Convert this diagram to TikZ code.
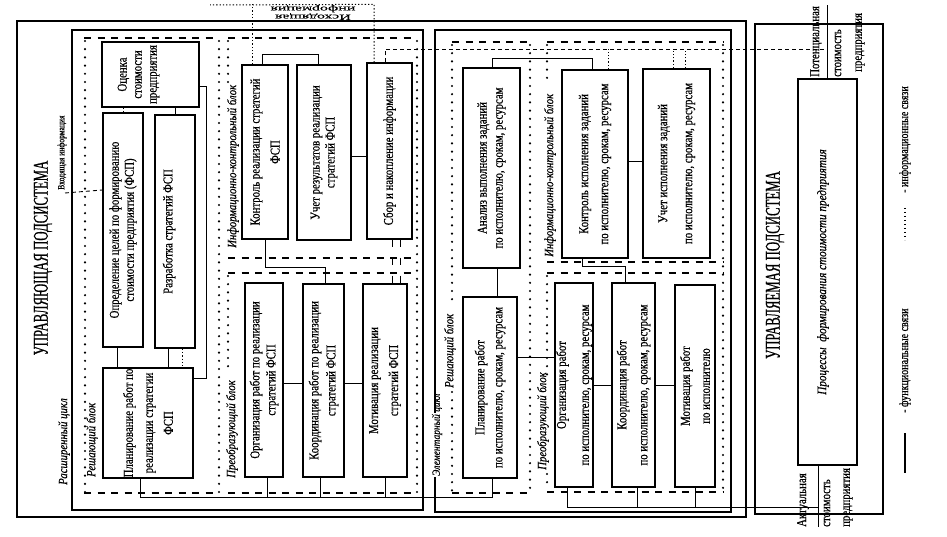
\documentclass[tikz,border=0pt]{standalone}
\usepackage{fontspec}
\setmainfont{Liberation Serif}
\newfontfamily\bxf{Liberation Serif}[FakeStretch=0.8,FakeBold=0.6]
\newfontfamily\lblf{Liberation Serif}[FakeStretch=0.86,FakeBold=0.5]
\newfontfamily\ttlf{Liberation Serif}[FakeStretch=0.61,FakeBold=0.6]
\newfontfamily\widef{Liberation Serif}[FakeStretch=2,FakeBold=0.4]
\begin{document}
\begin{tikzpicture}[x=1pt,y=-1pt,
  frm/.style={line width=1.8pt},
  bx/.style={draw, line width=1.3pt, rotate=90, align=center, inner sep=0pt, font=\bxf\fontsize{13.5}{15}\selectfont},
  lead/.style={font=\bxf\fontsize{13.5}{#1}\selectfont},
  bt/.style={rotate=90, align=center, inner sep=0pt, font=\bxf\fontsize{13.5}{15}\selectfont},
  fl/.style={line width=1pt},
  dsh/.style={line width=1.5pt, dash pattern=on 7pt off 6.5pt},
  dts/.style={line width=2.4pt, line cap=round, dash pattern=on 0pt off 8.2pt},
  il/.style={line width=1pt, dash pattern=on 1.3pt off 2pt},
  ild/.style={line width=0.9pt, dash pattern=on 4pt off 3pt},
  lbl/.style={rotate=90, anchor=west, inner sep=0pt, font=\lblf\itshape\fontsize{12.5}{12.5}\selectfont},
  txt/.style={rotate=90, anchor=west, inner sep=0pt, font=\bxf\fontsize{13.5}{13.5}\selectfont},
  ttl/.style={rotate=90, inner sep=0pt, font=\ttlf\fontsize{21}{21}\selectfont},
]
\useasboundingbox (0,0) rectangle (947,537);

% ---------- frames ----------
\draw[frm] (17,21) rectangle (746,517);
\draw[frm] (72,30) rectangle (423,510);
\draw[frm] (435,413) -- (435,30) -- (731,30) -- (731,512) -- (435,512) -- (435,477);
\draw[frm] (755,24) rectangle (883,514);

\node[ttl] (t1) at (43,258) {УПРАВЛЯЮЩАЯ ПОДСИСТЕМА};
\node[ttl] (t2) at (775,265) {УПРАВЛЯЕМАЯ ПОДСИСТЕМА};

% ---------- block outlines: extended cycle ----------
\draw[dsh] (84,38) -- (219,38);
\draw[dsh] (84,493) -- (219,493);
\draw[dsh] (228,38) -- (417,38);
\draw[dsh] (228,258) -- (417,258);
\draw[dsh] (228,273) -- (417,273);
\draw[dsh] (228,493) -- (417,493);
\draw[dts] (85,41) -- (85,492);
\draw[dts] (219,41) -- (219,492);
\draw[dts] (228,41) -- (228,84);
\draw[dts] (228,276) -- (228,372);
\draw[dts] (417,41) -- (417,492);

% ---------- block outlines: elementary cycle ----------
\draw[dsh] (452,42) -- (530,42);
\draw[dsh] (452,493) -- (530,493);
\draw[dsh] (547,42) -- (723,42);
\draw[dsh] (547,262) -- (723,262);
\draw[dsh] (547,273) -- (723,273);
\draw[dsh] (547,492) -- (723,492);
\draw[dts] (452,45) -- (452,304);
\draw[dts] (452,392) -- (452,492);
\draw[dts] (530,45) -- (530,492);
\draw[dts] (547,45) -- (547,80);
\draw[dts] (547,276) -- (547,378);
\draw[dts] (547,474) -- (547,490);
\draw[dts] (723,45) -- (723,492);

% ---------- labels ----------
\node[lbl] (l1) at (64,485) {Расширенный цикл};
\node[lbl] (l2) at (92,477) {Решающий блок};
\node[lbl] (l3) at (233,248) {Информационно-контрольный блок};
\node[lbl] (l4) at (232,478) {Преобразующий блок};
\node[lbl, font=\lblf\itshape\fontsize{11}{11}\selectfont] (l5) at (437,476) {Элементарный цикл};
\node[lbl] (l6) at (450,388) {Решающий блок};
\node[lbl] (l7) at (550,257) {Информационно-контрольный блок};
\node[lbl] (l8) at (543,470) {Преобразующий блок};
\node[txt, font=\bxf\fontsize{9.5}{9.5}\selectfont] (vin) at (62,190) {Входящая информация};
\node[rotate=180, align=center, inner sep=0pt, font=\widef\fontsize{8}{8}\selectfont] (vout) at (313,12.5) {Исходящая\\информация};

% ---------- boxes: extended cycle ----------
\node[bx, minimum width=65pt, minimum height=97pt] (ocenka) at (150.5,74.5) {};
\node[bt] (ocenkaT) at ([xshift=-12pt]ocenka.center) {Оценка\\стоимости\\предприятия};
\node[bx, minimum width=234pt, minimum height=40pt] (opred) at (123,230) {Определение целей по формированию\\стоимости предприятия (ФСП)};
\node[bx, minimum width=233pt, minimum height=40pt] (razrab) at (175,231.5) {};
\node[bt] (razrabT) at ([xshift=-6pt]razrab.center) {Разработка стратегий ФСП};
\node[bx, lead=20, minimum width=110pt, minimum height=90pt] (planF) at (148,423) {Планирование работ по\\реализации стратегии\\ФСП};
\node[bx, lead=20, minimum width=174pt, minimum height=46pt] (kontrF) at (265,152) {Контроль реализации стратегий\\ФСП};
\node[bx, lead=15, minimum width=175pt, minimum height=54pt] (uchetF) at (324,152.5) {Учет результатов реализации\\стратегий ФСП};
\node[bx, minimum width=176pt, minimum height=45pt] (sbor) at (389.5,151) {Сбор и накопление информации};
\node[bx, lead=16, minimum width=194pt, minimum height=38pt] (orgF) at (264,380) {Организация работ по реализации\\стратегий ФСП};
\node[bx, lead=17, minimum width=193pt, minimum height=41pt] (koordF) at (323.5,380.5) {Координация работ по реализации\\стратегий ФСП};
\node[bx, lead=20, minimum width=193pt, minimum height=44pt] (motF) at (385,380.5) {Мотивация реализации\\стратегий ФСП};

% ---------- boxes: elementary cycle ----------
\node[bx, lead=16, minimum width=200pt, minimum height=57pt] (analiz) at (491.5,168) {Анализ выполнения заданий\\по исполнителю, срокам, ресурсам};
\node[bx, lead=20, minimum width=188pt, minimum height=66pt] (kontrE) at (595,164) {Контроль исполнения заданий\\по исполнителю, срокам, ресурсам};
\node[bx, lead=25, minimum width=189pt, minimum height=67pt] (uchetE) at (676.5,163.5) {Учет исполнения заданий\\по исполнителю, срокам, ресурсам};
\node[bx, lead=18, minimum width=181pt, minimum height=54pt] (planE) at (490,387.5) {Планирование работ\\по исполнителю, срокам, ресурсам};
\node[bx, lead=23, minimum width=204pt, minimum height=38pt] (orgE) at (574,385) {Организация работ\\по исполнителю, срокам, ресурсам};
\node[bx, lead=21, minimum width=204pt, minimum height=43pt] (koordE) at (633.5,385) {Координация работ\\по исполнителю, срокам, ресурсам};
\node[bx, lead=20, minimum width=202pt, minimum height=40pt] (motE) at (695,386) {Мотивация работ\\по исполнителю};

% ---------- managed subsystem ----------
\node[bx, minimum width=386pt, minimum height=59pt] (proc) at (827.5,272) {};
\node[rotate=90, inner sep=0pt, font=\lblf\itshape\fontsize{13}{13}\selectfont] (procT) at ([xshift=-4.5pt]proc.center) {Процессы~~формирования стоимости предприятия};
\coordinate (potEnd) at (827.5,5);
\coordinate (aktEnd) at (818,527);
\draw[fl] (proc.east) -- (potEnd);
\draw[fl] ([xshift=-9.5pt]proc.west) -- (aktEnd);
\node[txt] (p1) at (816,77) {Потенциальная};
\node[txt] (p2) at (838,77) {стоимость};
\node[txt] (p3) at (860,72) {предприятия};
\node[txt] (a1) at (803,527) {Актуальная};
\node[txt] (a2) at (827,527) {стоимость};
\node[txt] (a3) at (848,527) {предприятия};

% ---------- legend ----------
\coordinate (lg1a) at (905,433); \coordinate (lg1b) at (905,473);
\coordinate (lg2a) at (905,208); \coordinate (lg2b) at (905,240);
\draw[line width=1.3pt] (lg1a) -- (lg1b);
\draw[line width=1.4pt, dash pattern=on 1.2pt off 2.8pt] (lg2a) -- (lg2b);
\node[txt, font=\bxf\fontsize{12.5}{12.5}\selectfont] (lg1) at (905,413) {- функциональные связи};
\node[txt, font=\bxf\fontsize{12.5}{12.5}\selectfont] (lg2) at (905,193) {- информационные связи};

% ---------- connectors: extended cycle ----------
\draw[fl] (ocenka.west -| razrab.east) -- (razrab.east);
\draw[il] (ocenka.west -| opred.east) -- (opred.east);
\draw[fl] ([yshift=-12.5pt]ocenka.south) -| ([xshift=13pt,yshift=45pt]planF.south) -- ([yshift=45pt]planF.south);
\draw[fl] ([xshift=-6pt]opred.west) -- ([xshift=-6pt]opred.west |- planF.east);
\draw[fl] ([xshift=-7pt]razrab.west) -- ([xshift=-7pt]razrab.west |- planF.east);
\draw[il] ([xshift=7pt]razrab.west) -- ([xshift=7pt]razrab.west |- planF.east);
\draw[fl] ([xshift=-8pt]planF.west) -- ++(0,19) -| ([xshift=2pt]planE.west);
\draw[fl] ([xshift=3pt]orgF.west) -- ++(0,20);
\draw[fl] ([xshift=-3.5pt]koordF.west) -- ++(0,20);
\draw[fl] (motF.west) -- ++(0,20);
\draw[fl] ([xshift=-3pt]kontrF.east) -- ++(0,-10) -| ([xshift=-6pt]uchetF.east);
\draw[fl] ([yshift=-4.5pt]uchetF.south) -- ([yshift=-4.5pt]uchetF.south -| sbor.north);
\draw[fl] (kontrF.west) -- ++(0,28) -| ([xshift=1.5pt]koordF.east);
\draw[fl] ([yshift=-3pt]orgF.south) -- ([yshift=-3pt]orgF.south -| koordF.north);
\draw[fl] ([yshift=-2.5pt]koordF.south) -- ([yshift=-2.5pt]koordF.south -| motF.north);
\draw[line width=1pt, dash pattern=on 7pt off 11pt] ([xshift=2.5pt]sbor.west) -- ([xshift=2.5pt]sbor.west |- motF.east);
\draw[line width=1pt, dash pattern=on 7pt off 11pt] ([xshift=10.5pt]sbor.west) -- ([xshift=10.5pt]sbor.west |- motF.east);
\coordinate (outL) at (210,5);
\draw[il] ([xshift=-13pt]kontrF.east) -- ++(0,-60);
\draw[il] ([xshift=-15.5pt]sbor.east) -- ++(0,-58) -- (outL);
\draw[ild] ([xshift=-4.5pt]sbor.east) |- ([yshift=29pt]proc.east);
\draw[ild] (vin.west) ++(3,3) -- (opred.north |- vin.west);

% ---------- connectors: elementary cycle ----------
\draw[il] ([xshift=13pt]kontrE.east) -- ++(0,-20);
\draw[il] ([xshift=-3.5pt]uchetE.east) -- ++(0,-19);
\draw[il] ([xshift=8.5pt]uchetE.east) -- ++(0,-19);
\draw[fl] ([xshift=0.5pt]analiz.east) -- ++(0,-9) -| ([xshift=-3pt]kontrE.east);
\draw[fl] ([yshift=2pt]kontrE.south) -- ([yshift=2pt]kontrE.south -| uchetE.north);
\draw[fl] ([xshift=6pt]analiz.west) -- ([xshift=6pt]analiz.west |- planE.east);
\draw[fl] ([yshift=30.5pt]planE.south) -- ([yshift=30.5pt]planE.south -| orgE.north);
\draw[fl] ([xshift=-13pt]kontrE.west) -- ++(0,8) -| ([xshift=-8.5pt]koordE.east);
\draw[fl] (orgE.south) -- (orgE.south -| koordE.north);
\draw[fl] (koordE.south) -- (koordE.south -| motE.north);
\draw[fl] ([xshift=3.5pt]koordE.west) -- ++(0,20);
\draw[fl] (motE.west) -- ++(0,20);
\draw[fl] ([xshift=-7pt]orgE.west) -- ++(0,20) -| ([xshift=-9.5pt]proc.west);
\end{tikzpicture}
\end{document}
